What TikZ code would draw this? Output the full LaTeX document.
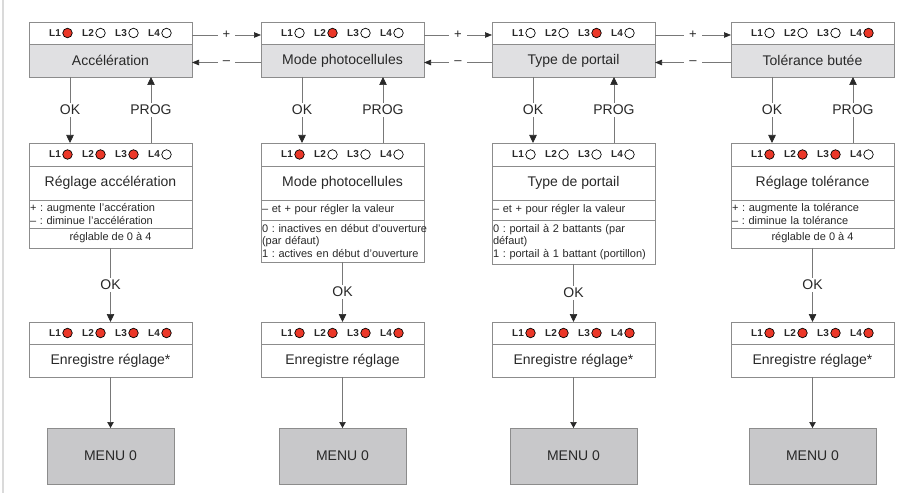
\documentclass[tikz,border=0pt]{standalone}
\usepackage{fontspec}
\setmainfont{Liberation Sans}
\usetikzlibrary{arrows.meta,calc}
\definecolor{bordergray}{RGB}{140,140,140}
\definecolor{linegray}{RGB}{120,120,120}
\definecolor{fillgray}{RGB}{224,224,226}
\definecolor{menugray}{RGB}{200,200,202}
\definecolor{ledred}{RGB}{235,55,40}
\definecolor{textcol}{RGB}{40,40,40}
\definecolor{edgegray}{RGB}{218,218,218}
\frenchspacing

\newcommand{\ledrow}[4]{%
  \foreach \st [count=\k] in {#4}{%
    \node[ledlbl] (#1-l\k) at ({#2+20+33*(\k-1)},#3) {L\k};
    \node[led, fill=\st] (#1-c\k) at ({#2+38.5+33*(\k-1)},#3) {};
  }%
}

\begin{document}
\begin{tikzpicture}[x=1pt,y=-1pt,
  every node/.style={font=\fontsize{14}{16}\selectfont, text=textcol},
  sect/.style={draw=bordergray, line width=0.8pt, minimum width=163pt, inner sep=0pt, outer sep=0pt, anchor=north west},
  smalltxt/.style={font=\fontsize{11}{12.5}\selectfont},
  desc/.style={smalltxt, align=left, text width=161pt, inner xsep=1pt},
  menu/.style={draw=bordergray, line width=0.8pt, fill=menugray, minimum width=127pt, minimum height=56pt, inner sep=0pt, outer sep=0pt},
  ledlbl/.style={anchor=west, inner sep=0pt, font=\bfseries\fontsize{10}{12}\selectfont},
  led/.style={circle, draw=black, line width=0.7pt, minimum size=9.5pt, inner sep=0pt},
  lbl/.style={fill=white, inner xsep=1pt, inner ysep=2pt},
  pm/.style={fill=white, inner xsep=5pt, inner ysep=1pt, font=\fontsize{13}{15}\selectfont},
  varr/.style={draw=linegray, line width=0.7pt, -{Triangle[length=8pt,width=7.5pt,color=textcol]}},
  harr/.style={draw=linegray, line width=0.7pt, -{Triangle[length=7pt,width=5.5pt,color=textcol]}},
  sarr/.style={draw=linegray, line width=0.7pt, -{Triangle[length=6pt,width=6.5pt,color=textcol]}}
]
\useasboundingbox (0,0) rectangle (917,502);
\draw[edgegray, line width=1.2pt] (3,0) -- (3,493);

% ---------- column 1 ----------
\node[sect, minimum height=22pt] (t1led) at (29,22) {};
\ledrow{t1}{29}{33}{ledred,white,white,white}
\node[sect, fill=fillgray, minimum height=33pt] (t1) at (29,44) {Accélération};
\node[sect, minimum height=23pt] (m1led) at (29,143) {};
\ledrow{m1}{29}{154.5}{ledred,ledred,ledred,white}
\node[sect, minimum height=34pt] (m1) at (29,166) {Réglage accélération};
\node[sect, desc, minimum height=28pt] (m1d1) at (29,200) {+ : augmente l'accération\\– : diminue l’accélération};
\node[sect, smalltxt, minimum height=20pt] (m1d2) at (29,228) {réglable de 0 à 4};
\node[sect, minimum height=22pt] (e1led) at (29,322) {};
\ledrow{e1}{29}{333}{ledred,ledred,ledred,ledred}
\node[sect, minimum height=33pt] (e1) at (29,344) {Enregistre réglage*};
\node[menu] (menu1) at (110.5,456) {MENU 0};

% ---------- column 2 ----------
\node[sect, minimum height=22pt] (t2led) at (261,22) {};
\ledrow{t2}{261}{33}{white,ledred,white,white}
\node[sect, fill=fillgray, minimum height=33pt] (t2) at (261,44) {Mode photocellules};
\node[sect, minimum height=23pt] (m2led) at (261,143) {};
\ledrow{m2}{261}{154.5}{ledred,white,white,white}
\node[sect, minimum height=34pt] (m2) at (261,166) {Mode photocellules};
\node[sect, desc, minimum height=20pt] (m2d1) at (261,200) {\mbox{– et + pour régler la valeur}};
\node[sect, desc, minimum height=42pt] (m2d2) at (261,220) {\mbox{0 : inactives en début d’ouverture}\\(par défaut)\\\mbox{1 : actives en début d’ouverture}};
\node[sect, minimum height=22pt] (e2led) at (261,322) {};
\ledrow{e2}{261}{333}{ledred,ledred,ledred,ledred}
\node[sect, minimum height=33pt] (e2) at (261,344) {Enregistre réglage};
\node[menu] (menu2) at (342.5,456) {MENU 0};

% ---------- column 3 ----------
\node[sect, minimum height=22pt] (t3led) at (492,22) {};
\ledrow{t3}{492}{33}{white,white,ledred,white}
\node[sect, fill=fillgray, minimum height=33pt] (t3) at (492,44) {Type de portail};
\node[sect, minimum height=23pt] (m3led) at (492,143) {};
\ledrow{m3}{492}{154.5}{white,white,white,white}
\node[sect, minimum height=34pt] (m3) at (492,166) {Type de portail};
\node[sect, desc, minimum height=20pt] (m3d1) at (492,200) {\mbox{– et + pour régler la valeur}};
\node[sect, desc, minimum height=44pt] (m3d2) at (492,220) {\mbox{0 : portail à 2 battants (par}\\défaut)\\\mbox{1 : portail à 1 battant (portillon)}};
\node[sect, minimum height=22pt] (e3led) at (492,322) {};
\ledrow{e3}{492}{333}{ledred,ledred,ledred,ledred}
\node[sect, minimum height=33pt] (e3) at (492,344) {Enregistre réglage*};
\node[menu] (menu3) at (573.5,456) {MENU 0};

% ---------- column 4 ----------
\node[sect, minimum height=22pt] (t4led) at (731,22) {};
\ledrow{t4}{731}{33}{white,white,white,ledred}
\node[sect, fill=fillgray, minimum height=33pt] (t4) at (731,44) {Tolérance butée};
\node[sect, minimum height=23pt] (m4led) at (731,143) {};
\ledrow{m4}{731}{154.5}{ledred,ledred,ledred,white}
\node[sect, minimum height=34pt] (m4) at (731,166) {Réglage tolérance};
\node[sect, desc, minimum height=28pt] (m4d1) at (731,200) {+ : augmente la tolérance\\– : diminue la tolérance};
\node[sect, smalltxt, minimum height=20pt] (m4d2) at (731,228) {réglable de 0 à 4};
\node[sect, minimum height=22pt] (e4led) at (731,322) {};
\ledrow{e4}{731}{333}{ledred,ledred,ledred,ledred}
\node[sect, minimum height=33pt] (e4) at (731,344) {Enregistre réglage*};
\node[menu] (menu4) at (812.5,456) {MENU 0};

% ---------- horizontal + / - connectors ----------
\draw[harr] ($(t1led.east)+(0,2)$) -- node[pm]{+} ($(t2led.west)+(0,2)$);
\draw[harr] ($(t2.west)+(0,2)$) -- node[pm]{–} ($(t1.east)+(0,2)$);
\draw[harr] ($(t2led.east)+(0,2)$) -- node[pm]{+} ($(t3led.west)+(0,2)$);
\draw[harr] ($(t3.west)+(0,2)$) -- node[pm]{–} ($(t2.east)+(0,2)$);
\draw[harr] ($(t3led.east)+(0,2)$) -- node[pm]{+} ($(t4led.west)+(0,2)$);
\draw[harr] ($(t4.west)+(0,2)$) -- node[pm]{–} ($(t3.east)+(0,2)$);

% ---------- vertical connectors ----------
\foreach \i/\d in {1/m1d2,2/m2d2,3/m3d2,4/m4d2}{
  \draw[varr] ([xshift=-40.5pt]t\i.south) -- node[lbl]{OK} ([xshift=-40.5pt]m\i led.north);
  \draw[varr] ([xshift=40.5pt]m\i led.north) -- node[lbl]{PROG} ([xshift=40.5pt]t\i.south);
  \draw[varr] (\d.south) -- node[lbl]{OK} (e\i led.north);
  \draw[sarr] (e\i.south) -- (menu\i.north);
}
\end{tikzpicture}
\end{document}
